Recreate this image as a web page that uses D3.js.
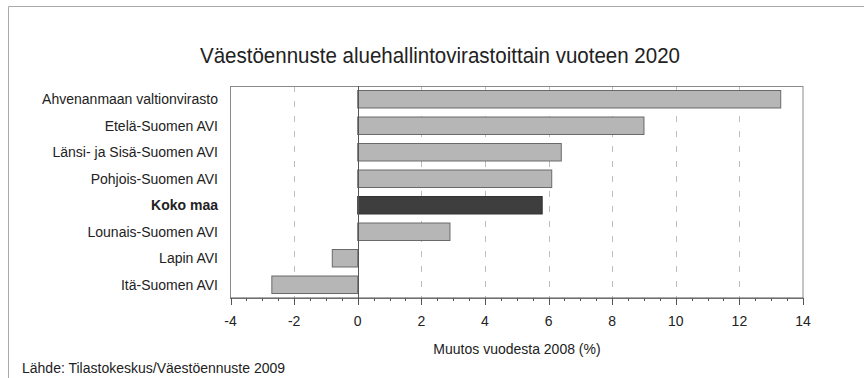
<!DOCTYPE html>
<html><head><meta charset="utf-8">
<script src="https://cdn.jsdelivr.net/npm/d3@7"></script>
<style>body{margin:0;background:#fff}svg{display:block}text{font-family:"Liberation Sans",Arial,Helvetica,sans-serif;fill:#222}</style>
</head><body><svg id="c" width="864" height="378"></svg>
<script>
const categories = ["Ahvenanmaan valtionvirasto","Etelä-Suomen AVI","Länsi- ja Sisä-Suomen AVI","Pohjois-Suomen AVI","Koko maa","Lounais-Suomen AVI","Lapin AVI","Itä-Suomen AVI"];
const values = [13.3, 9.0, 6.4, 6.1, 5.8, 2.9, -0.8, -2.7];
const highlight = ["Koko maa"];
const tickValues = [-4,-2,0,2,4,6,8,10,12,14];
const title = "Väestöennuste aluehallintovirastoittain vuoteen 2020";
const xTitle = "Muutos vuodesta 2008 (%)";
const source = "Lähde: Tilastokeskus/Väestöennuste 2009";

const svg = d3.select("#c");
const L = 230.5, R = 803, T = 86, B = 298;
const x = d3.scaleLinear().domain([-4,14]).range([L,R]);
const y = d3.scaleBand().domain(categories).range([T,B]).paddingInner(0.34).paddingOuter(0.17);

// outer frame
svg.append("path").attr("d","M8.5,378 V6.5 H864").attr("fill","none").attr("stroke","#aaa").attr("stroke-width",1);

// title
svg.append("text").attr("x",440).attr("y",63).attr("text-anchor","middle").attr("font-size",22)
  .attr("textLength",480).attr("lengthAdjust","spacingAndGlyphs").text(title);

// gridlines
svg.append("g").selectAll("line").data(tickValues.filter(v=>v!==0 && v!==-4 && v!==14)).join("line")
  .attr("x1",d=>Math.round(x(d))+0.5).attr("x2",d=>Math.round(x(d))+0.5).attr("y1",T).attr("y2",B)
  .attr("stroke","#bdbdbd").attr("stroke-dasharray","6,9");

// plot frame
svg.append("rect").attr("x",L).attr("y",T+0.5).attr("width",R-L).attr("height",B-T)
  .attr("fill","none").attr("stroke","#8a8a8a");

// bars
svg.append("g").selectAll("rect").data(categories).join("rect")
  .attr("x",(d,i)=>x(Math.min(0,values[i])))
  .attr("y",d=>y(d))
  .attr("width",(d,i)=>Math.abs(x(values[i])-x(0)))
  .attr("height",y.bandwidth())
  .attr("fill",d=>highlight.includes(d)?"#3e3e3e":"#b6b6b6")
  .attr("stroke",d=>highlight.includes(d)?"#333":"#6a6a6a").attr("stroke-width",1);

// zero line
svg.append("line").attr("x1",Math.round(x(0))+0.5).attr("x2",Math.round(x(0))+0.5).attr("y1",T).attr("y2",B)
  .attr("stroke","#555");

// category labels
svg.append("g").selectAll("text").data(categories).join("text")
  .attr("x",218).attr("y",d=>y(d)+y.bandwidth()/2).attr("dy","0.36em").attr("text-anchor","end")
  .attr("font-size",14).attr("font-weight",d=>highlight.includes(d)?"bold":"normal").text(d=>d);

// x axis
const minor = d3.range(-4,14.01,0.5);
const ax = svg.append("g").attr("transform",`translate(0,${B})`);
ax.append("line").attr("x1",L).attr("x2",R).attr("stroke","#555");
ax.selectAll("line.mn").data(minor).join("line").attr("class","mn")
  .attr("x1",d=>Math.round(x(d))+0.5).attr("x2",d=>Math.round(x(d))+0.5)
  .attr("y1",0).attr("y2",d=>tickValues.includes(d)?7:3).attr("stroke","#555");
ax.selectAll("text").data(tickValues).join("text")
  .attr("x",d=>x(d)).attr("y",28).attr("text-anchor","middle").attr("font-size",14).text(d=>d);

svg.append("text").attr("x",517).attr("y",354).attr("text-anchor","middle").attr("font-size",14).text(xTitle);
svg.append("text").attr("x",22).attr("y",373).attr("font-size",14).text(source);
</script></body></html>
